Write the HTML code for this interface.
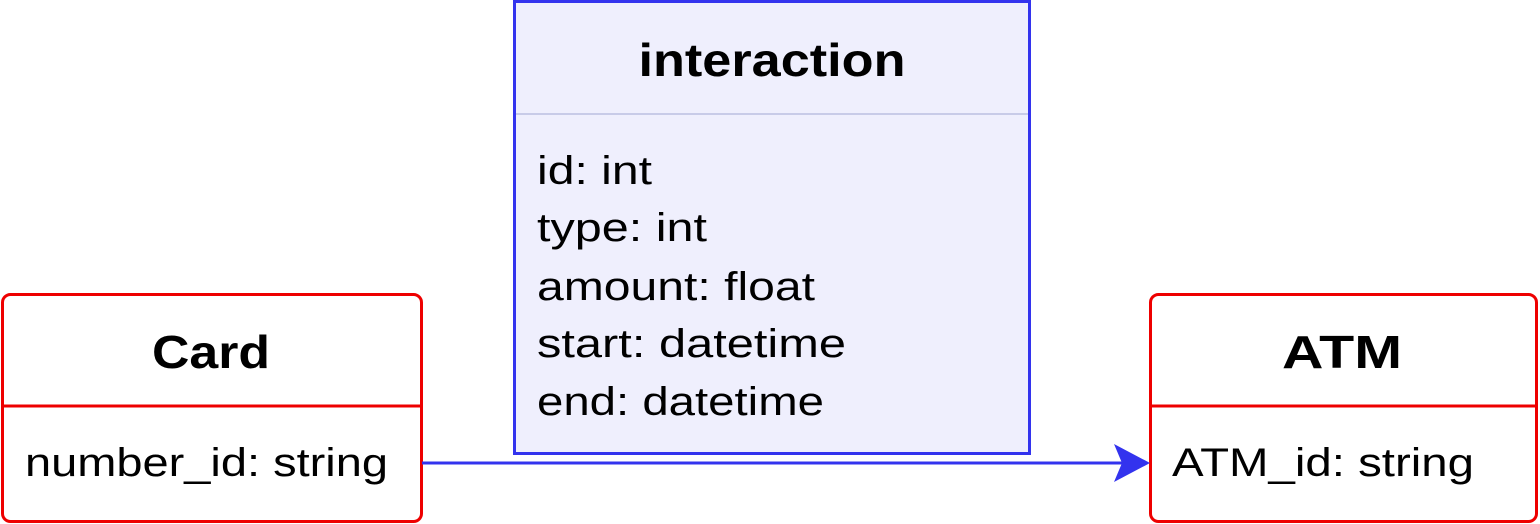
<!DOCTYPE html>
<html><head><meta charset="utf-8"><style>html,body{margin:0;padding:0;background:#fff;}svg{display:block;}</style></head>
<body>
<svg width="1540" height="524" viewBox="0 0 1540 524" xmlns="http://www.w3.org/2000/svg" font-family="Liberation Sans, sans-serif">
<rect x="0" y="0" width="1540" height="524" fill="#fff"/>
<!-- interaction -->
<rect x="514.5" y="1.5" width="515" height="452" fill="#efeffd" stroke="#3333ee" stroke-width="3"/>
<line x1="516" y1="114" x2="1028" y2="114" stroke="#c8cbe8" stroke-width="2"/>
<text x="772" y="76" text-anchor="middle" font-weight="bold" font-size="46" textLength="267" lengthAdjust="spacingAndGlyphs">interaction</text>
<g font-size="40" fill="#000">
<text x="537" y="184" textLength="115" lengthAdjust="spacingAndGlyphs">id: int</text>
<text x="537" y="241" textLength="170" lengthAdjust="spacingAndGlyphs">type: int</text>
<text x="537" y="300" textLength="278" lengthAdjust="spacingAndGlyphs">amount: float</text>
<text x="537" y="357" textLength="309" lengthAdjust="spacingAndGlyphs">start: datetime</text>
<text x="537" y="415" textLength="287" lengthAdjust="spacingAndGlyphs">end: datetime</text>
</g>
<!-- Card -->
<rect x="2.5" y="294.5" width="419" height="227" rx="8" fill="#fff" stroke="#ee0000" stroke-width="3"/>
<line x1="3" y1="406" x2="421" y2="406" stroke="#ee0000" stroke-width="3"/>
<text x="211" y="368" text-anchor="middle" font-weight="bold" font-size="46" textLength="118" lengthAdjust="spacingAndGlyphs">Card</text>
<text x="25" y="476" font-size="40" textLength="363" lengthAdjust="spacingAndGlyphs">number_id: string</text>
<!-- ATM -->
<rect x="1150.5" y="294.5" width="386" height="227" rx="8" fill="#fff" stroke="#ee0000" stroke-width="3"/>
<line x1="1151" y1="406" x2="1536" y2="406" stroke="#ee0000" stroke-width="3"/>
<text x="1342" y="368" text-anchor="middle" font-weight="bold" font-size="46" textLength="120" lengthAdjust="spacingAndGlyphs">ATM</text>
<text x="1172" y="476" font-size="40" textLength="302" lengthAdjust="spacingAndGlyphs">ATM_id: string</text>
<!-- arrow -->
<line x1="422" y1="463" x2="1125" y2="463" stroke="#3333ee" stroke-width="3"/>
<path d="M1150 463 L1114 444 L1122 463 L1114 482 Z" fill="#3333ee"/>
</svg>
</body></html>
